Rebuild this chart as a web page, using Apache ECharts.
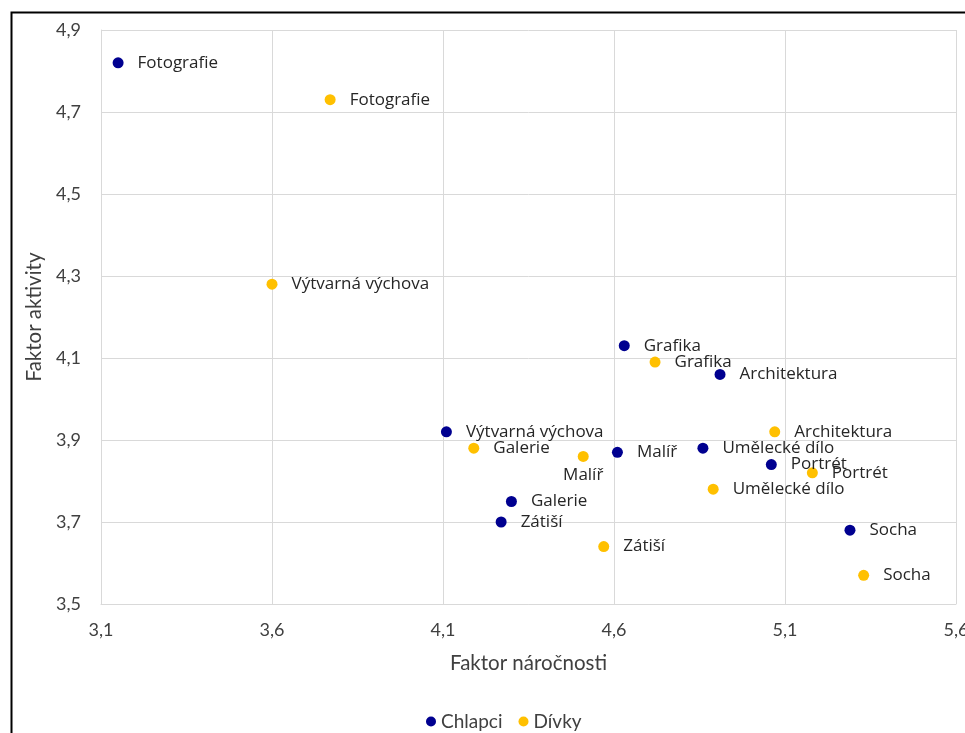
<!DOCTYPE html>
<html><head><meta charset="utf-8">
<script src="https://cdn.jsdelivr.net/npm/echarts@6/dist/echarts.min.js"></script>
<style>html,body{margin:0;padding:0;background:#fff}#c{width:965px;height:733px}</style>
</head><body><div id="c"></div>
<script>
const names = ["Fotografie","Výtvarná výchova","Grafika","Architektura","Malíř","Umělecké dílo","Portrét","Galerie","Zátiší","Socha"];
const chlapciX = [3.15, 4.11, 4.63, 4.91, 4.61, 4.86, 5.06, 4.30, 4.27, 5.29];
const chlapciY = [4.82, 3.92, 4.13, 4.06, 3.87, 3.88, 3.84, 3.75, 3.70, 3.68];
const divkyX   = [3.77, 3.60, 4.72, 5.07, 4.51, 4.89, 5.18, 4.19, 4.57, 5.33];
const divkyY   = [4.73, 4.28, 4.09, 3.92, 3.86, 3.78, 3.82, 3.88, 3.64, 3.57];
const xTicks = [3.1, 3.6, 4.1, 4.6, 5.1, 5.6];
const yTicks = [3.5, 3.7, 3.9, 4.1, 4.3, 4.5, 4.7, 4.9];

const labelFont = {fontFamily:'"Open Sans", sans-serif', fontSize:17, color:'#262626'};
function mk(xs, ys, belowIdx){
  return names.map((n,i)=>{
    const d = {value:[xs[i], ys[i]], name:n};
    if (belowIdx.includes(i)) d.label = {position:'bottom', distance:5};
    return d;
  });
}
const comma = v => v.toFixed(1).replace('.', ',');
const chart = echarts.init(document.getElementById('c'));
chart.setOption({
  animation:false,
  grid:{left:101, right:9, top:30, bottom:129, containLabel:false, outerBoundsMode:'none'},
  xAxis:{type:'value', min:xTicks[0], max:xTicks[xTicks.length-1], interval:0.5,
    name:'Faktor náročnosti', nameLocation:'middle', nameGap:49,
    nameTextStyle:{fontFamily:'Lato, sans-serif', fontSize:20.5, color:'#404040'},
    axisLine:{show:true, lineStyle:{color:'#d9d9d9'}}, axisTick:{show:false},
    axisLabel:{formatter:comma, fontFamily:'Lato, sans-serif', fontSize:18, color:'#404040', margin:17, showMaxLabel:true},
    splitLine:{show:true, lineStyle:{color:'#d9d9d9'}}},
  yAxis:{type:'value', min:yTicks[0], max:yTicks[yTicks.length-1], interval:0.2,
    name:'Faktor aktivity', nameLocation:'middle', nameGap:54,
    nameTextStyle:{fontFamily:'Lato, sans-serif', fontSize:20.5, color:'#404040'},
    axisLine:{show:true, lineStyle:{color:'#d9d9d9'}}, axisTick:{show:false},
    axisLabel:{formatter:comma, fontFamily:'Lato, sans-serif', fontSize:18, color:'#404040', margin:20},
    splitLine:{show:true, lineStyle:{color:'#d9d9d9'}}},
  legend:{top:707, left:421, itemWidth:10, itemHeight:10, itemGap:16,
    textStyle:{fontFamily:'Lato, sans-serif', fontSize:19, color:'#404040'},
    data:[{name:'Chlapci', icon:'circle'},{name:'Dívky', icon:'circle'}]},
  graphic:[{type:'rect', left:9, top:10, shape:{width:1000, height:800}, style:{fill:'none', stroke:'#000', lineWidth:2}, silent:true}],
  series:[
    {name:'Chlapci', type:'scatter', symbol:'circle', symbolSize:11, itemStyle:{color:'#000090', opacity:1},
     label:{show:true, position:'right', distance:14, formatter:p=>p.name, ...labelFont},
     data:mk(chlapciX, chlapciY, [])},
    {name:'Dívky', type:'scatter', symbol:'circle', symbolSize:11, itemStyle:{color:'#FFC000', opacity:1},
     label:{show:true, position:'right', distance:14, formatter:p=>p.name, ...labelFont},
     labelLayout:{hideOverlap:false},
     data:mk(divkyX, divkyY, [4])}
  ]
});
</script></body></html>
